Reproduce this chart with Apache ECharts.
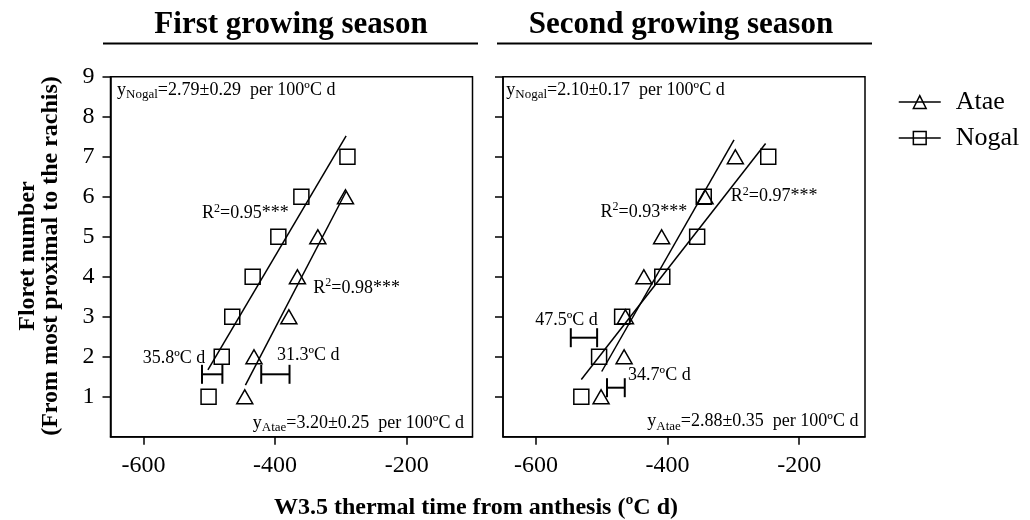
<!DOCTYPE html>
<html>
<head>
<meta charset="utf-8">
<script src="https://cdn.jsdelivr.net/npm/echarts@6/dist/echarts.min.js"></script>
<style>html,body{margin:0;padding:0;background:#fff}#c{width:1030px;height:520px}</style>
</head>
<body>
<div id="c"></div>
<script>
// ---------- data ----------
const yTicks = [1, 2, 3, 4, 5, 6, 7, 8, 9];
const xTicks = [-600, -400, -200];
const panelTitles = ['First growing season', 'Second growing season'];
const seriesNames = ['Atae', 'Nogal'];

// First growing season
const s1AtaeX = [-446, -432, -379, -366, -335, -293];
const s1AtaeY = [1, 2, 3, 4, 5, 6];
const s1NogalX = [-501, -481, -465, -434, -395, -360, -290];
const s1NogalY = [1, 2, 3, 4, 5, 6, 7];
const s1AtaeFit = [[-445, 1.29], [-292, 6.13]];
const s1NogalFit = [[-502, 1.67], [-292, 7.52]];
const s1Bars = [[-511, -480, 1.56], [-421, -378, 1.56]];   // [from, to, y]
const s1Notes = [
  { t: '{m|y}{s|Nogal}{m|=2.79±0.29  per 100ºC d}', x: -640, y: 8.67, a: 'left' },
  { t: '{m|y}{s|Atae}{m|=3.20±0.25  per 100ºC d}', x: -113, y: 0.34, a: 'right' },
  { t: '{m|R}{p|2}{m|=0.95***}', x: -445, y: 5.58, a: 'center' },
  { t: '{m|R}{p|2}{m|=0.98***}', x: -342, y: 3.71, a: 'left' },
  { t: '{m|35.8ºC d}', x: -506, y: 1.97, a: 'right' },
  { t: '{m|31.3ºC d}', x: -397, y: 2.03, a: 'left' }
];

// Second growing season
const s2AtaeX = [-501, -466, -464, -436, -409, -343, -297];
const s2AtaeY = [1, 2, 3, 4, 5, 6, 7];
const s2NogalX = [-531, -504, -469, -408, -355, -345, -247];
const s2NogalY = [1, 2, 3, 4, 5, 6, 7];
const s2AtaeFit = [[-500, 1.63], [-299, 7.42]];
const s2NogalFit = [[-531, 1.43], [-251, 7.33]];
const s2Bars = [[-547, -507, 2.475], [-492, -465, 1.225]];
const s2Notes = [
  { t: '{m|y}{s|Nogal}{m|=2.10±0.17  per 100ºC d}', x: -645, y: 8.67, a: 'left' },
  { t: '{m|y}{s|Atae}{m|=2.88±0.35  per 100ºC d}', x: -110, y: 0.375, a: 'right' },
  { t: '{m|R}{p|2}{m|=0.93***}', x: -436, y: 5.62, a: 'center' },
  { t: '{m|R}{p|2}{m|=0.97***}', x: -304, y: 6.0, a: 'left' },
  { t: '{m|47.5ºC d}', x: -506, y: 2.92, a: 'right' },
  { t: '{m|34.7ºC d}', x: -460, y: 1.53, a: 'left' }
];

// ---------- helpers ----------
const FONT = '"Liberation Serif", "Times New Roman", serif';
const zip = (xs, ys) => xs.map((x, i) => [x, ys[i]]);
const rich = {
  m: { fontFamily: FONT, fontSize: 18, lineHeight: 22, color: '#000' },
  s: { fontFamily: FONT, fontSize: 13, lineHeight: 13, verticalAlign: 'bottom', color: '#000' },
  p: { fontFamily: FONT, fontSize: 12, lineHeight: 12, verticalAlign: 'top', color: '#000' }
};

function pointSeries(name, data, idx) {
  const tri = name === 'Atae';
  return {
    type: 'line', name: name, xAxisIndex: idx, yAxisIndex: idx, data: data,
    symbol: tri ? 'triangle' : 'rect', symbolSize: tri ? [16, 14] : [15, 15],
    showAllSymbol: true,
    lineStyle: { opacity: 0, color: '#000' },
    itemStyle: { color: 'rgba(0,0,0,0)', borderColor: '#000', borderWidth: 1.5 },
    z: 4, silent: true
  };
}
function fitSeries(data, idx) {
  return {
    type: 'line', xAxisIndex: idx, yAxisIndex: idx, data: data, symbol: 'none',
    lineStyle: { color: '#000', width: 1.5 }, z: 3, silent: true
  };
}
function barSeries(data, idx) {
  return {
    type: 'custom', xAxisIndex: idx, yAxisIndex: idx, data: data, silent: true,
    encode: { x: [0, 1], y: 2 },
    renderItem: function (params, api) {
      const y = api.value(2);
      const a = api.coord([api.value(0), y]);
      const b = api.coord([api.value(1), y]);
      const h = 9.5;
      const st = { stroke: '#000', lineWidth: 2 };
      return {
        type: 'group', children: [
          { type: 'line', shape: { x1: a[0], y1: a[1], x2: b[0], y2: b[1] }, style: st },
          { type: 'line', shape: { x1: a[0], y1: a[1] - h, x2: a[0], y2: a[1] + h }, style: st },
          { type: 'line', shape: { x1: b[0], y1: b[1] - h, x2: b[0], y2: b[1] + h }, style: st }
        ]
      };
    }
  };
}
function noteSeries(notes, idx) {
  return {
    type: 'custom', xAxisIndex: idx, yAxisIndex: idx, silent: true, clip: false,
    data: notes.map(n => [n.x, n.y]),
    renderItem: function (params, api) {
      const n = notes[params.dataIndex];
      const p = api.coord([api.value(0), api.value(1)]);
      return {
        type: 'text', x: p[0], y: p[1],
        style: { text: n.t, rich: rich, align: n.a, verticalAlign: 'middle', fill: '#000' }
      };
    }
  };
}

function xAxis(idx) {
  return {
    type: 'value', gridIndex: idx, min: -650, max: -100,
    splitLine: { show: false },
    axisLine: { onZero: false, lineStyle: { color: '#000', width: 1.5 } },
    axisTick: { customValues: xTicks, length: 8, lineStyle: { color: '#000', width: 1.5 } },
    axisLabel: { customValues: xTicks, margin: 17, fontFamily: FONT, fontSize: 24, color: '#000' }
  };
}
function yAxis(idx) {
  return {
    type: 'value', gridIndex: idx, min: 0, max: 9,
    splitLine: { show: false },
    axisLine: { onZero: false, lineStyle: { color: '#000', width: 1.5 } },
    axisTick: { customValues: yTicks, length: 8, lineStyle: { color: '#000', width: 1.5 } },
    axisLabel: { show: idx === 0, customValues: yTicks, margin: 16, fontFamily: FONT, fontSize: 24, color: '#000' }
  };
}

const chart = echarts.init(document.getElementById('c'), null, { renderer: 'canvas' });
chart.setOption({
  animation: false,
  backgroundColor: '#fff',
  grid: [
    { left: 110.5, top: 76.7, width: 362, height: 360, show: true, borderColor: '#000', borderWidth: 1.5, backgroundColor: 'transparent' },
    { left: 503, top: 76.7, width: 362, height: 360, show: true, borderColor: '#000', borderWidth: 1.5, backgroundColor: 'transparent' }
  ],
  xAxis: [xAxis(0), xAxis(1)],
  yAxis: [yAxis(0), yAxis(1)],
  legend: {
    data: seriesNames, orient: 'vertical', left: 893, top: 84,
    itemWidth: 42, itemHeight: 16, itemGap: 10,
    textStyle: { fontFamily: FONT, fontSize: 26, color: '#000', padding: [0, 0, 0, 10] },
    lineStyle: { opacity: 1, color: '#000', width: 1.5 },
    itemStyle: { color: 'rgba(0,0,0,0)', borderColor: '#000', borderWidth: 1.5 },
    selectedMode: false
  },
  graphic: [
    { type: 'text', x: 291, y: 25, style: { text: panelTitles[0], font: 'bold 31px ' + FONT, fill: '#000', align: 'center', verticalAlign: 'middle' } },
    { type: 'line', shape: { x1: 103, y1: 43.5, x2: 478, y2: 43.5 }, style: { stroke: '#000', lineWidth: 2 } },
    { type: 'text', x: 681, y: 25, style: { text: panelTitles[1], font: 'bold 31px ' + FONT, fill: '#000', align: 'center', verticalAlign: 'middle' } },
    { type: 'line', shape: { x1: 497, y1: 43.5, x2: 872, y2: 43.5 }, style: { stroke: '#000', lineWidth: 2 } },
    { type: 'text', x: 476, y: 508, style: { text: 'W3.5 thermal time from anthesis (ºC d)', font: 'bold 24px ' + FONT, fill: '#000', align: 'center', verticalAlign: 'middle' } },
    { type: 'text', x: 28, y: 256, rotation: Math.PI / 2, style: { text: 'Floret number', font: 'bold 24px ' + FONT, fill: '#000', align: 'center', verticalAlign: 'middle' } },
    { type: 'text', x: 51, y: 256, rotation: Math.PI / 2, style: { text: '(From most proximal to the rachis)', font: 'bold 24px ' + FONT, fill: '#000', align: 'center', verticalAlign: 'middle' } }
  ],
  series: [
    pointSeries('Atae', zip(s1AtaeX, s1AtaeY), 0),
    pointSeries('Nogal', zip(s1NogalX, s1NogalY), 0),
    fitSeries(s1AtaeFit, 0),
    fitSeries(s1NogalFit, 0),
    barSeries(s1Bars, 0),
    noteSeries(s1Notes, 0),
    pointSeries('Atae', zip(s2AtaeX, s2AtaeY), 1),
    pointSeries('Nogal', zip(s2NogalX, s2NogalY), 1),
    fitSeries(s2AtaeFit, 1),
    fitSeries(s2NogalFit, 1),
    barSeries(s2Bars, 1),
    noteSeries(s2Notes, 1)
  ]
});
</script>
</body>
</html>
